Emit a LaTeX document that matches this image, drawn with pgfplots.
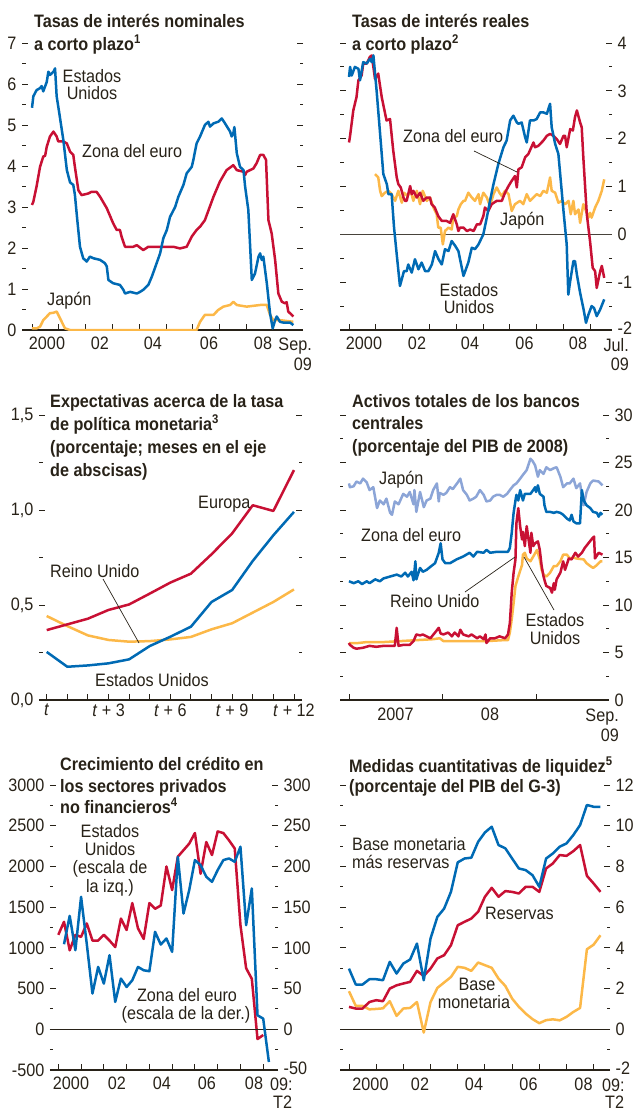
\documentclass[border=0pt]{standalone}
\usepackage{pgfplots}
\pgfplotsset{compat=1.18}
\usepackage{fontspec}
\setmainfont{Liberation Sans}[FakeStretch=0.9]
\definecolor{tc}{RGB}{40,34,24}
\definecolor{cblue}{RGB}{0,106,180}
\definecolor{cred}{RGB}{200,16,52}
\definecolor{corange}{RGB}{252,184,72}
\definecolor{clblue}{RGB}{140,165,215}
\newcommand{\fs}{\fontsize{18}{21}\selectfont}
\pgfplotsset{
  panel/.style={
    scale only axis, anchor=south west,
    axis line style={draw=none},
    tick align=inside,
    major tick length=6pt, minor tick length=3.5pt,
    tick style={tc, line width=0.9pt},
    xtick pos=left, ytick pos=both,
    xticklabels={},
    tick label style={font=\fs, text=tc},
  },
  rlab/.style={yticklabel pos=right, yticklabel style={inner sep=0.5pt, xshift=5pt}},
  llab/.style={yticklabel pos=left, yticklabel style={inner sep=0.5pt, xshift=-5pt}},
  dline/.style={line width=2.5pt, line join=round, no markers},
}
\begin{document}
\begin{tikzpicture}
\useasboundingbox (0,0) rectangle (634pt,-1111pt);

% ---------- Panel 1
\begin{axis}[panel, llab, at={(22pt,-330pt)}, width=281pt, height=287pt,
  xmin=1999.627, xmax=2010.11, ymin=0, ymax=7,
  xtick={2000,...,2009}, ytick={0,...,7}, minor y tick num=1,
  yticklabels={0,1,2,3,4,5,6,7}]
\draw[tc, line width=1.2pt] (rel axis cs:0,0) -- (rel axis cs:1,0);
\addplot[dline, cred] coordinates {(2000.0,3.05)(2000.05,3.13)(2000.17,3.5)(2000.3,3.98)(2000.42,4.23)(2000.49,4.25)(2000.55,4.47)(2000.67,4.72)(2000.8,4.84)(2000.92,4.72)(2000.98,4.6)(2001.17,4.6)(2001.3,4.55)(2001.42,4.35)(2001.54,4.27)(2001.6,3.98)(2001.73,3.41)(2001.85,3.29)(2002.1,3.33)(2002.22,3.37)(2002.41,3.37)(2002.54,3.25)(2002.79,2.97)(2003.03,2.6)(2003.16,2.44)(2003.28,2.44)(2003.34,2.28)(2003.47,2.03)(2003.78,2.03)(2003.91,2.07)(2004.15,1.95)(2004.34,2.03)(2004.65,2.03)(2005.27,2.03)(2005.52,1.99)(2005.77,2.03)(2005.96,2.28)(2006.14,2.44)(2006.27,2.52)(2006.45,2.68)(2006.77,3.25)(2007.01,3.62)(2007.26,3.9)(2007.51,4.02)(2007.64,3.9)(2007.89,3.86)(2007.95,3.78)(2008.01,3.86)(2008.26,3.94)(2008.38,4.07)(2008.51,4.27)(2008.63,4.27)(2008.73,4.15)(2008.82,2.68)(2008.94,2.36)(2009.07,1.71)(2009.19,0.89)(2009.32,0.69)(2009.44,0.65)(2009.5,0.68)(2009.56,0.45)(2009.75,0.33)};
\addplot[dline, corange] coordinates {(2000.0,0.04)(2000.17,0.04)(2000.3,0.08)(2000.42,0.24)(2000.67,0.41)(2000.8,0.42)(2000.92,0.45)(2001.05,0.28)(2001.23,0.04)(2001.42,0.0)(2006.14,0.0)(2006.27,0.2)(2006.45,0.37)(2006.77,0.37)(2006.95,0.49)(2007.14,0.57)(2007.39,0.61)(2007.51,0.69)(2007.64,0.61)(2008.01,0.57)(2008.51,0.61)(2008.76,0.61)(2008.88,0.37)(2009.0,0.24)(2009.25,0.24)(2009.75,0.2)};
\addplot[dline, cblue] coordinates {(2000.0,5.42)(2000.05,5.7)(2000.17,5.85)(2000.3,5.9)(2000.36,5.95)(2000.42,5.82)(2000.55,6.05)(2000.61,6.3)(2000.67,6.22)(2000.8,6.3)(2000.86,6.38)(2000.92,5.7)(2001.02,5.28)(2001.17,4.63)(2001.3,3.9)(2001.42,3.6)(2001.54,3.54)(2001.6,3.3)(2001.69,2.68)(2001.79,2.03)(2001.91,1.75)(2002.04,1.67)(2002.16,1.79)(2002.29,1.75)(2002.54,1.71)(2002.72,1.63)(2002.79,1.55)(2002.85,1.22)(2003.03,1.14)(2003.28,1.1)(2003.41,0.98)(2003.47,0.89)(2003.66,0.93)(2003.91,0.89)(2004.03,0.93)(2004.15,0.98)(2004.34,1.1)(2004.47,1.3)(2004.65,1.63)(2004.78,1.87)(2004.9,2.24)(2005.03,2.44)(2005.15,2.76)(2005.34,3.0)(2005.46,3.25)(2005.65,3.54)(2005.77,3.82)(2005.96,3.98)(2006.02,4.15)(2006.14,4.55)(2006.27,4.72)(2006.45,5.0)(2006.58,5.08)(2006.64,4.96)(2006.77,5.04)(2006.95,5.08)(2007.08,5.16)(2007.2,5.04)(2007.39,4.84)(2007.45,4.72)(2007.51,4.8)(2007.55,4.95)(2007.64,4.31)(2007.76,3.98)(2007.89,3.9)(2007.95,3.5)(2008.07,2.93)(2008.2,1.22)(2008.32,1.38)(2008.45,1.79)(2008.51,1.87)(2008.57,1.71)(2008.63,1.79)(2008.76,1.14)(2008.88,0.41)(2008.98,0.04)(2009.07,0.24)(2009.13,0.33)(2009.25,0.2)(2009.38,0.18)(2009.63,0.18)(2009.75,0.12)};
\end{axis}

% ---------- Panel 2
\begin{axis}[panel, rlab, at={(340pt,-330pt)}, width=272pt, height=287pt,
  xmin=1999.664, xmax=2009.81, ymin=-2, ymax=4,
  xtick={2000,...,2009}, ytick={-2,...,4}, minor y tick num=1,
  yticklabels={\raisebox{3pt}{-2},-1,0,1,2,3,4}]
\draw[tc, line width=1.2pt] (rel axis cs:0,0) -- (rel axis cs:1,0);
\draw[tc!85, line width=1pt] (axis cs:1999.664,0) -- (axis cs:2009.81,0);
\addplot[dline, corange] coordinates {(2000.97,1.26)(2001.09,1.19)(2001.16,0.91)(2001.22,0.8)(2001.34,0.87)(2001.47,0.91)(2001.59,0.84)(2001.72,0.7)(2001.84,0.91)(2001.97,0.66)(2002.05,0.87)(2002.18,0.8)(2002.3,0.91)(2002.4,0.7)(2002.53,0.91)(2002.65,0.63)(2002.75,0.91)(2002.9,0.7)(2003.02,0.77)(2003.15,0.56)(2003.27,0.42)(2003.33,0.14)(2003.42,0.14)(2003.5,-0.21)(2003.58,0.07)(2003.71,0.14)(2003.83,0.1)(2003.89,0.35)(2004.02,0.38)(2004.08,0.52)(2004.17,0.63)(2004.27,0.7)(2004.33,0.7)(2004.45,0.87)(2004.58,0.77)(2004.7,0.7)(2004.83,0.84)(2004.89,0.63)(2005.01,0.87)(2005.14,0.77)(2005.26,0.59)(2005.39,0.84)(2005.51,0.98)(2005.61,0.87)(2005.7,0.8)(2005.82,0.91)(2005.95,0.84)(2006.07,0.49)(2006.19,0.63)(2006.38,0.7)(2006.5,0.63)(2006.63,0.84)(2006.75,0.7)(2006.88,0.77)(2007.0,0.84)(2007.13,0.8)(2007.25,0.91)(2007.38,0.87)(2007.5,1.19)(2007.56,0.91)(2007.69,0.87)(2007.81,0.66)(2007.94,0.7)(2008.06,0.63)(2008.19,0.7)(2008.27,0.42)(2008.37,0.7)(2008.43,0.42)(2008.56,0.52)(2008.62,0.24)(2008.74,0.63)(2008.87,0.45)(2008.93,0.35)(2008.99,0.45)(2009.05,0.35)(2009.18,0.56)(2009.3,0.7)(2009.43,0.91)(2009.52,1.15)};
\addplot[dline, cred] coordinates {(2000.0,1.92)(2000.04,2.06)(2000.16,2.59)(2000.28,2.87)(2000.35,3.22)(2000.47,3.32)(2000.53,3.57)(2000.66,3.57)(2000.72,3.64)(2000.78,3.71)(2000.85,3.74)(2000.97,3.25)(2001.09,3.36)(2001.22,2.87)(2001.4,2.38)(2001.53,2.41)(2001.65,1.75)(2001.78,1.19)(2001.84,1.05)(2001.93,0.98)(2002.03,0.77)(2002.09,0.7)(2002.15,0.7)(2002.28,1.01)(2002.34,0.84)(2002.4,0.91)(2002.53,0.77)(2002.65,0.87)(2002.77,0.7)(2002.9,0.77)(2003.02,0.77)(2003.08,0.63)(2003.2,0.56)(2003.33,0.38)(2003.46,0.28)(2003.64,0.28)(2003.77,0.24)(2003.89,0.42)(2004.02,0.21)(2004.08,0.07)(2004.14,0.14)(2004.27,0.14)(2004.4,0.07)(2004.52,0.1)(2004.65,0.07)(2004.77,0.21)(2004.89,0.21)(2005.01,0.38)(2005.07,0.56)(2005.2,0.49)(2005.32,0.63)(2005.51,0.7)(2005.7,0.7)(2005.82,0.87)(2005.95,1.01)(2006.07,1.12)(2006.19,1.22)(2006.26,0.98)(2006.32,1.36)(2006.44,1.4)(2006.57,1.61)(2006.69,1.68)(2006.88,1.92)(2006.94,1.82)(2007.06,1.85)(2007.25,1.96)(2007.38,2.06)(2007.5,2.1)(2007.62,2.06)(2007.75,1.99)(2007.87,1.89)(2008.0,2.06)(2008.06,2.06)(2008.12,1.82)(2008.25,2.2)(2008.35,2.17)(2008.43,2.45)(2008.5,2.59)(2008.62,2.34)(2008.68,2.24)(2008.74,1.61)(2008.87,0.42)(2008.99,-0.14)(2009.09,-0.7)(2009.18,-0.77)(2009.24,-1.12)(2009.37,-0.77)(2009.43,-0.66)(2009.52,-0.91)};
\addplot[dline, cblue] coordinates {(2000.0,3.29)(2000.04,3.5)(2000.1,3.32)(2000.22,3.5)(2000.35,3.46)(2000.41,3.22)(2000.53,3.6)(2000.66,3.57)(2000.78,3.67)(2000.85,3.6)(2000.91,3.74)(2001.03,3.0)(2001.16,2.1)(2001.28,1.26)(2001.41,1.05)(2001.47,0.84)(2001.59,0.84)(2001.68,0.14)(2001.78,-0.42)(2001.9,-1.08)(2002.05,-0.77)(2002.15,-0.77)(2002.21,-0.63)(2002.34,-0.8)(2002.46,-0.52)(2002.59,-0.73)(2002.71,-0.59)(2002.84,-0.77)(2002.96,-0.77)(2003.09,-0.63)(2003.21,-0.35)(2003.34,-0.52)(2003.46,-0.63)(2003.58,-0.31)(2003.71,-0.35)(2003.83,-0.14)(2003.96,-0.24)(2004.08,-0.35)(2004.27,-0.87)(2004.45,-0.59)(2004.58,-0.28)(2004.7,-0.31)(2004.83,-0.21)(2005.01,0.0)(2005.14,0.35)(2005.26,0.7)(2005.39,1.05)(2005.57,1.47)(2005.76,1.82)(2005.88,1.96)(2006.01,2.38)(2006.13,2.48)(2006.26,2.34)(2006.32,2.31)(2006.44,2.34)(2006.57,2.03)(2006.63,1.92)(2006.75,2.38)(2006.88,2.38)(2007.0,2.41)(2007.13,2.55)(2007.25,2.55)(2007.38,2.52)(2007.5,2.73)(2007.56,2.24)(2007.69,1.89)(2007.81,1.68)(2008.0,0.49)(2008.12,-0.21)(2008.18,-1.26)(2008.25,-0.98)(2008.37,-0.56)(2008.43,-0.56)(2008.5,-0.84)(2008.62,-1.22)(2008.75,-1.57)(2008.84,-1.85)(2008.93,-1.68)(2009.05,-1.5)(2009.14,-1.54)(2009.24,-1.71)(2009.37,-1.57)(2009.52,-1.36)};
\end{axis}

% ---------- Panel 3
\begin{axis}[panel, llab, at={(39pt,-700pt)}, width=263pt, height=285pt,
  xmin=-0.374, xmax=12.39, ymin=0, ymax=1.5,
  xtick={0,...,12},
  xticklabels={\textit{t},,,\textit{t} + 3,,,\textit{t} + 6,,,\textit{t} + 9,,,\textit{t} + 12},
  ytick={0,0.5,1,1.5}, minor y tick num=1,
  yticklabels={{0,0},{0,5},{1,0},{1,5}}]
\draw[tc, line width=1.2pt] (rel axis cs:0,0) -- (rel axis cs:1,0);
\addplot[dline, corange] coordinates {(0,0.442)(1,0.389)(2,0.34)(3,0.316)(4,0.307)(5,0.31)(6,0.319)(7,0.332)(8,0.372)(9,0.404)(10,0.46)(11,0.516)(12,0.582)};
\addplot[dline, cred] coordinates {(0,0.368)(1,0.398)(2,0.428)(3,0.474)(4,0.503)(5,0.56)(6,0.618)(7,0.665)(8,0.767)(9,0.877)(10,1.025)(11,0.995)(12,1.21)};
\addplot[dline, cblue] coordinates {(0,0.253)(1,0.175)(2,0.182)(3,0.193)(4,0.214)(5,0.284)(6,0.333)(7,0.386)(8,0.516)(9,0.579)(10,0.732)(11,0.867)(12,0.99)};
\end{axis}

% ---------- Panel 4
\begin{axis}[panel, rlab, at={(340pt,-700pt)}, width=269pt, height=285pt,
  xmin=2006.904, xmax=2009.78, ymin=0, ymax=30,
  xtick={2007,2008,2009}, ytick={0,5,...,30}, minor y tick num=1,
  yticklabels={0,5,10,15,20,25,30}]
\draw[tc, line width=1.2pt] (rel axis cs:0,0) -- (rel axis cs:1,0);
\addplot[dline, clblue] coordinates {(2007.0,22.8)(2007.01,22.4)(2007.05,22.5)(2007.08,23.0)(2007.12,22.8)(2007.15,23.3)(2007.19,22.9)(2007.22,22.1)(2007.26,22.4)(2007.3,20.2)(2007.33,21.0)(2007.37,20.6)(2007.4,21.2)(2007.44,19.7)(2007.46,19.5)(2007.49,20.9)(2007.53,20.6)(2007.58,21.7)(2007.62,21.4)(2007.65,21.9)(2007.69,20.6)(2007.7,22.1)(2007.72,19.8)(2007.76,21.9)(2007.8,20.3)(2007.83,21.0)(2007.87,21.2)(2007.9,22.1)(2007.94,22.8)(2007.96,20.9)(2007.97,21.8)(2008.01,21.6)(2008.04,21.8)(2008.08,22.4)(2008.11,22.2)(2008.17,23.0)(2008.19,23.3)(2008.22,22.1)(2008.26,21.6)(2008.29,21.0)(2008.33,21.2)(2008.36,21.4)(2008.4,22.1)(2008.44,21.6)(2008.47,20.9)(2008.51,21.0)(2008.54,21.4)(2008.58,21.6)(2008.61,21.6)(2008.65,21.4)(2008.69,21.7)(2008.72,22.1)(2008.76,22.6)(2008.79,22.8)(2008.83,23.3)(2008.86,23.7)(2008.9,24.2)(2008.94,25.4)(2008.96,25.2)(2008.99,24.7)(2009.02,23.5)(2009.04,24.2)(2009.08,23.8)(2009.11,24.5)(2009.15,24.2)(2009.19,24.4)(2009.22,24.5)(2009.26,23.5)(2009.29,22.4)(2009.33,22.8)(2009.36,22.8)(2009.4,23.3)(2009.43,22.3)(2009.47,22.8)(2009.49,21.6)(2009.51,20.5)(2009.54,21.9)(2009.58,22.8)(2009.61,23.1)(2009.67,23.0)(2009.71,22.6)};
\addplot[dline, cblue] coordinates {(2007.0,12.5)(2007.05,12.3)(2007.1,12.5)(2007.14,12.2)(2007.19,12.5)(2007.22,12.3)(2007.28,12.7)(2007.33,12.5)(2007.37,12.8)(2007.44,13.0)(2007.51,13.2)(2007.56,13.0)(2007.6,13.4)(2007.63,13.0)(2007.67,13.5)(2007.69,12.6)(2007.71,14.6)(2007.72,12.7)(2007.76,13.9)(2007.79,13.5)(2007.83,13.7)(2007.88,14.1)(2007.92,14.4)(2007.96,15.5)(2007.98,16.5)(2008.0,14.8)(2008.03,14.4)(2008.08,14.4)(2008.15,14.8)(2008.22,15.1)(2008.29,15.5)(2008.33,15.1)(2008.37,15.6)(2008.44,15.5)(2008.47,15.8)(2008.51,15.5)(2008.58,15.6)(2008.65,15.6)(2008.7,15.6)(2008.72,16.0)(2008.74,17.6)(2008.76,19.7)(2008.78,21.0)(2008.79,21.6)(2008.81,21.0)(2008.83,22.1)(2008.86,21.0)(2008.88,21.7)(2008.94,21.7)(2008.97,22.1)(2008.99,22.4)(2009.0,21.9)(2009.02,22.6)(2009.04,21.7)(2009.08,21.4)(2009.09,20.5)(2009.11,19.8)(2009.15,19.8)(2009.19,19.7)(2009.22,19.8)(2009.26,19.7)(2009.29,19.5)(2009.33,19.1)(2009.36,18.9)(2009.38,19.5)(2009.4,18.8)(2009.43,18.6)(2009.47,18.6)(2009.49,22.1)(2009.51,21.0)(2009.54,20.5)(2009.58,20.2)(2009.61,19.8)(2009.65,19.7)(2009.67,19.3)(2009.69,19.7)(2009.71,19.5)};
\addplot[dline, corange] coordinates {(2007.0,6.0)(2007.1,6.0)(2007.19,6.1)(2007.37,6.1)(2007.55,6.2)(2007.72,6.3)(2007.9,6.4)(2007.97,6.5)(2008.01,6.2)(2008.15,6.2)(2008.33,6.2)(2008.47,6.2)(2008.65,6.3)(2008.7,6.3)(2008.72,7.1)(2008.74,8.5)(2008.76,10.2)(2008.78,12.0)(2008.81,13.0)(2008.85,14.2)(2008.86,15.3)(2008.88,15.5)(2008.9,14.9)(2008.94,14.6)(2008.97,15.1)(2009.01,15.8)(2009.04,14.8)(2009.06,13.7)(2009.08,13.2)(2009.11,13.0)(2009.15,13.4)(2009.19,14.1)(2009.22,14.1)(2009.26,14.6)(2009.29,15.3)(2009.33,15.3)(2009.36,14.9)(2009.4,15.0)(2009.43,14.9)(2009.51,14.8)(2009.54,14.4)(2009.58,14.1)(2009.61,13.9)(2009.65,14.2)(2009.69,14.6)(2009.71,14.6)};
\addplot[dline, cred] coordinates {(2007.0,6.0)(2007.01,5.8)(2007.05,5.5)(2007.08,5.4)(2007.15,5.5)(2007.22,5.7)(2007.29,5.6)(2007.37,5.7)(2007.44,5.7)(2007.49,5.7)(2007.51,7.6)(2007.53,5.7)(2007.58,5.8)(2007.65,5.8)(2007.69,6.2)(2007.72,6.9)(2007.76,6.8)(2007.79,6.9)(2007.87,6.5)(2007.92,7.1)(2007.96,7.6)(2007.98,7.0)(2008.01,6.9)(2008.06,7.1)(2008.1,6.7)(2008.13,7.1)(2008.17,6.7)(2008.19,7.4)(2008.22,6.9)(2008.28,6.7)(2008.31,6.9)(2008.37,6.5)(2008.4,6.7)(2008.44,6.4)(2008.46,6.9)(2008.47,6.0)(2008.51,6.5)(2008.56,6.5)(2008.61,6.7)(2008.67,6.5)(2008.7,6.9)(2008.72,8.1)(2008.74,11.3)(2008.76,13.4)(2008.78,14.8)(2008.79,18.6)(2008.81,20.2)(2008.83,18.3)(2008.85,16.9)(2008.86,17.7)(2008.88,16.2)(2008.9,18.3)(2008.92,16.9)(2008.94,15.5)(2008.95,17.6)(2008.97,16.2)(2008.99,16.5)(2009.02,16.7)(2009.04,15.8)(2009.06,14.1)(2009.08,13.0)(2009.1,12.3)(2009.11,12.0)(2009.15,11.8)(2009.17,11.3)(2009.19,12.3)(2009.2,11.6)(2009.22,12.7)(2009.26,13.4)(2009.29,14.6)(2009.31,13.7)(2009.35,14.9)(2009.38,14.8)(2009.42,15.5)(2009.45,15.1)(2009.49,15.5)(2009.52,16.0)(2009.56,16.5)(2009.6,17.0)(2009.62,17.2)(2009.63,14.9)(2009.67,15.5)(2009.71,15.3)};
\end{axis}

% ---------- Panel 5 (right scale, euro)
\begin{axis}[panel, rlab, at={(50pt,-1070pt)}, width=228pt, height=285pt,
  xmin=1999.635, xmax=2009.65, ymin=-50, ymax=300,
  xtick=\empty, ytick={-50,0,...,300}, major tick length=0pt,
  yticklabels={\raisebox{3pt}{-50},0,50,100,150,200,250,300}]
\addplot[dline, cred] coordinates {(2000.0,116)(2000.25,132)(2000.5,97)(2000.75,116)(2001.0,113.5)(2001.25,130)(2001.5,109)(2001.75,109)(2002.0,116)(2002.25,109)(2002.5,101)(2002.75,136)(2003.0,122)(2003.25,155)(2003.5,124)(2003.75,111)(2004.0,155)(2004.25,148)(2004.5,152)(2004.75,200)(2005.0,171)(2005.25,212)(2005.5,220)(2005.75,228)(2006.0,241)(2006.25,191)(2006.5,230)(2006.75,214)(2007.0,243)(2007.25,241)(2007.5,232)(2007.75,222)(2008.0,128)(2008.25,75)(2008.5,62)(2008.75,-12)(2009.0,-7)};
\end{axis}
% ---------- Panel 5 (left scale, US)
\begin{axis}[panel, llab, at={(50pt,-1070pt)}, width=228pt, height=285pt,
  xmin=1999.635, xmax=2009.65, ymin=-500, ymax=3000,
  xtick={2000,...,2009}, ytick={-500,0,...,3000}, minor y tick num=1,
  yticklabels={-500,0,500,1000,1500,2000,2500,3000}]
\draw[tc, line width=1.2pt] (rel axis cs:0,0) -- (rel axis cs:1,0);
\draw[tc, line width=1pt] (axis cs:1999.635,0) -- (axis cs:2009.65,0);
\addplot[dline, cblue] coordinates {(2000.25,1045)(2000.5,1393)(2000.75,971)(2001.0,1627)(2001.25,1050)(2001.5,439)(2001.75,766)(2002.0,561)(2002.25,910)(2002.5,336)(2002.75,623)(2003.0,520)(2003.25,602)(2003.5,766)(2003.75,725)(2004.0,713)(2004.25,1197)(2004.5,1041)(2004.75,1115)(2005.0,951)(2005.25,2119)(2005.5,1422)(2005.75,1709)(2006.0,2078)(2006.25,2016)(2006.5,1873)(2006.75,1811)(2007.0,1955)(2007.25,2078)(2007.5,2098)(2007.75,2057)(2008.0,2242)(2008.25,1279)(2008.5,1730)(2008.75,172)(2009.0,131)(2009.25,-402)};
\end{axis}

% ---------- Panel 6
\begin{axis}[panel, rlab, at={(340pt,-1070pt)}, width=270pt, height=285pt,
  xmin=1999.67, xmax=2009.6, ymin=-2, ymax=12,
  xtick={2000,...,2009}, ytick={-2,0,...,12}, minor y tick num=1,
  yticklabels={\raisebox{3pt}{-2},0,2,4,6,8,10,12}]
\draw[tc, line width=1.2pt] (rel axis cs:0,0) -- (rel axis cs:1,0);
\draw[tc, line width=1pt] (axis cs:1999.67,0) -- (axis cs:2009.6,0);
\addplot[dline, corange] coordinates {(2000.0,1.87)(2000.25,1.15)(2000.5,1.15)(2000.75,0.98)(2001.0,1.0)(2001.25,1.03)(2001.5,1.38)(2001.75,0.66)(2002.0,1.02)(2002.25,1.05)(2002.5,1.34)(2002.75,-0.16)(2003.0,1.34)(2003.25,2.03)(2003.5,2.3)(2003.75,2.57)(2004.0,3.07)(2004.25,3.02)(2004.5,2.87)(2004.75,3.28)(2005.0,3.15)(2005.25,3.02)(2005.5,2.49)(2005.75,2.13)(2006.0,1.51)(2006.25,1.1)(2006.5,0.77)(2006.75,0.5)(2007.0,0.3)(2007.25,0.45)(2007.5,0.49)(2007.75,0.44)(2008.0,0.61)(2008.25,0.85)(2008.5,1.05)(2008.75,3.93)(2009.0,4.16)(2009.25,4.62)};
\addplot[dline, cred] coordinates {(2000.0,1.1)(2000.25,1.02)(2000.5,1.02)(2000.75,1.34)(2001.0,1.43)(2001.25,1.38)(2001.5,2.0)(2001.75,2.16)(2002.0,2.25)(2002.25,2.33)(2002.5,2.87)(2002.75,2.62)(2003.0,2.98)(2003.25,3.48)(2003.5,3.64)(2003.75,4.13)(2004.0,5.11)(2004.25,5.28)(2004.5,5.44)(2004.75,5.77)(2005.0,6.51)(2005.25,6.95)(2005.5,6.51)(2005.75,6.79)(2006.0,6.75)(2006.25,6.67)(2006.5,7.0)(2006.75,7.0)(2007.0,6.75)(2007.25,7.9)(2007.5,8.15)(2007.75,8.56)(2008.0,8.52)(2008.25,8.75)(2008.5,9.05)(2008.75,7.54)(2009.0,7.16)(2009.25,6.75)};
\addplot[dline, cblue] coordinates {(2000.0,2.98)(2000.25,2.2)(2000.5,2.2)(2000.75,2.46)(2001.0,2.46)(2001.25,2.41)(2001.5,3.31)(2001.75,2.74)(2002.0,3.23)(2002.25,3.43)(2002.5,4.21)(2002.75,2.41)(2003.0,4.46)(2003.25,5.52)(2003.5,5.93)(2003.75,6.75)(2004.0,8.2)(2004.25,8.39)(2004.5,8.43)(2004.75,9.21)(2005.0,9.67)(2005.25,9.95)(2005.5,9.05)(2005.75,8.89)(2006.0,8.39)(2006.25,7.9)(2006.5,7.82)(2006.75,7.57)(2007.0,7.0)(2007.25,8.39)(2007.5,8.64)(2007.75,8.97)(2008.0,9.13)(2008.25,9.54)(2008.5,10.03)(2008.75,11.02)(2009.0,10.93)(2009.25,10.93)};
\end{axis}

% ---------- Titles
\begin{scope}[every node/.style={anchor=base west, inner sep=0pt, font=\fs\bfseries, text=tc}]
\node at (34pt,-27pt) {Tasas de interés nominales};
\node at (34pt,-50pt) {a corto plazo\textsuperscript{1}};
\node at (352pt,-27pt) {Tasas de interés reales};
\node at (352pt,-50pt) {a corto plazo\textsuperscript{2}};
\node at (50pt,-407pt) {Expectativas acerca de la tasa};
\node at (50pt,-430pt) {de política monetaria\textsuperscript{3}};
\node at (50pt,-453pt) {(porcentaje; meses en el eje};
\node at (50pt,-476pt) {de abscisas)};
\node at (352pt,-407pt) {Activos totales de los bancos};
\node at (352pt,-429pt) {centrales};
\node at (352pt,-452pt) {(porcentaje del PIB de 2008)};
\node at (60pt,-770pt) {Crecimiento del crédito en};
\node at (60pt,-792pt) {los sectores privados};
\node at (60pt,-813pt) {no financieros\textsuperscript{4}};
\node at (349pt,-772pt) {Medidas cuantitativas de liquidez\textsuperscript{5}};
\node at (349pt,-792pt) {(porcentaje del PIB del G-3)};
\end{scope}

% ---------- Series labels and x tick labels
\begin{scope}[every node/.style={inner sep=0pt, font=\fs, text=tc}]
% panel 1
\node[anchor=base] at (92pt,-82pt) {Estados};
\node[anchor=base] at (92pt,-99pt) {Unidos};
\node[anchor=base west] at (82pt,-157pt) {Zona del euro};
\node[anchor=base west] at (47pt,-305pt) {Japón};
\node[anchor=base] at (47pt,-349pt) {2000};
\node[anchor=base] at (100pt,-349pt) {02};
\node[anchor=base] at (153pt,-349pt) {04};
\node[anchor=base] at (209pt,-349pt) {06};
\node[anchor=base] at (263pt,-349pt) {08};
\node[anchor=base east] at (312pt,-350pt) {Sep.};
\node[anchor=base east] at (312pt,-370pt) {09};
% panel 2
\node[anchor=base west] at (403pt,-142pt) {Zona del euro};
\node[anchor=base west] at (500pt,-225pt) {Japón};
\node[anchor=base] at (469pt,-296pt) {Estados};
\node[anchor=base] at (469pt,-313pt) {Unidos};
\node[anchor=base] at (364pt,-349pt) {2000};
\node[anchor=base] at (417pt,-349pt) {02};
\node[anchor=base] at (470pt,-349pt) {04};
\node[anchor=base] at (524.5pt,-349pt) {06};
\node[anchor=base] at (578pt,-349pt) {08};
\node[anchor=base east] at (629pt,-351pt) {Jul.};
\node[anchor=base east] at (629pt,-370pt) {09};
% panel 3
\node[anchor=base west] at (198pt,-508pt) {Europa};
\node[anchor=base west] at (50pt,-577pt) {Reino Unido};
\node[anchor=base west] at (95pt,-686pt) {Estados Unidos};
% panel 4
\node[anchor=base west] at (379pt,-484pt) {Japón};
\node[anchor=base west] at (361pt,-541pt) {Zona del euro};
\node[anchor=base west] at (390pt,-607pt) {Reino Unido};
\node[anchor=base] at (555pt,-626pt) {Estados};
\node[anchor=base] at (555pt,-644pt) {Unidos};
\node[anchor=base] at (395.5pt,-720pt) {2007};
\node[anchor=base] at (490pt,-720pt) {08};
\node[anchor=base east] at (619pt,-721pt) {Sep.};
\node[anchor=base east] at (619pt,-741pt) {09};
% panel 5
\node[anchor=base] at (110pt,-837pt) {Estados};
\node[anchor=base] at (110pt,-855pt) {Unidos};
\node[anchor=base] at (110pt,-873pt) {(escala de};
\node[anchor=base] at (110pt,-892pt) {la izq.)};
\node[anchor=base] at (187pt,-1001pt) {Zona del euro};
\node[anchor=base] at (186pt,-1019pt) {(escala de la der.)};
\node[anchor=base] at (71pt,-1089pt) {2000};
\node[anchor=base] at (117pt,-1089pt) {02};
\node[anchor=base] at (162pt,-1089pt) {04};
\node[anchor=base] at (207pt,-1089pt) {06};
\node[anchor=base] at (254pt,-1089pt) {08};
\node[anchor=base west] at (270pt,-1090pt) {09:};
\node[anchor=base west] at (273pt,-1108pt) {T2};
% panel 6
\node[anchor=base west] at (352pt,-850pt) {Base monetaria};
\node[anchor=base west] at (352pt,-868pt) {más reservas};
\node[anchor=base west] at (485pt,-919pt) {Reservas};
\node[anchor=base] at (477pt,-990pt) {Base};
\node[anchor=base] at (474pt,-1008pt) {monetaria};
\node[anchor=base] at (370.5pt,-1090pt) {2000};
\node[anchor=base] at (420pt,-1090pt) {02};
\node[anchor=base] at (474pt,-1090pt) {04};
\node[anchor=base] at (528.5pt,-1090pt) {06};
\node[anchor=base] at (583.5pt,-1090pt) {08};
\node[anchor=base west] at (602pt,-1091pt) {09:};
\node[anchor=base west] at (605pt,-1108pt) {T2};
\end{scope}

% leader lines
\draw[tc, line width=0.7pt] (474pt,-151pt) -- (517pt,-172pt);
\draw[tc, line width=0.7pt] (103pt,-579pt) -- (139pt,-643pt);
\draw[tc, line width=0.7pt] (465pt,-592pt) -- (515pt,-557pt);
\draw[tc, line width=0.7pt] (554pt,-610pt) -- (524pt,-557pt);
\end{tikzpicture}
\end{document}
